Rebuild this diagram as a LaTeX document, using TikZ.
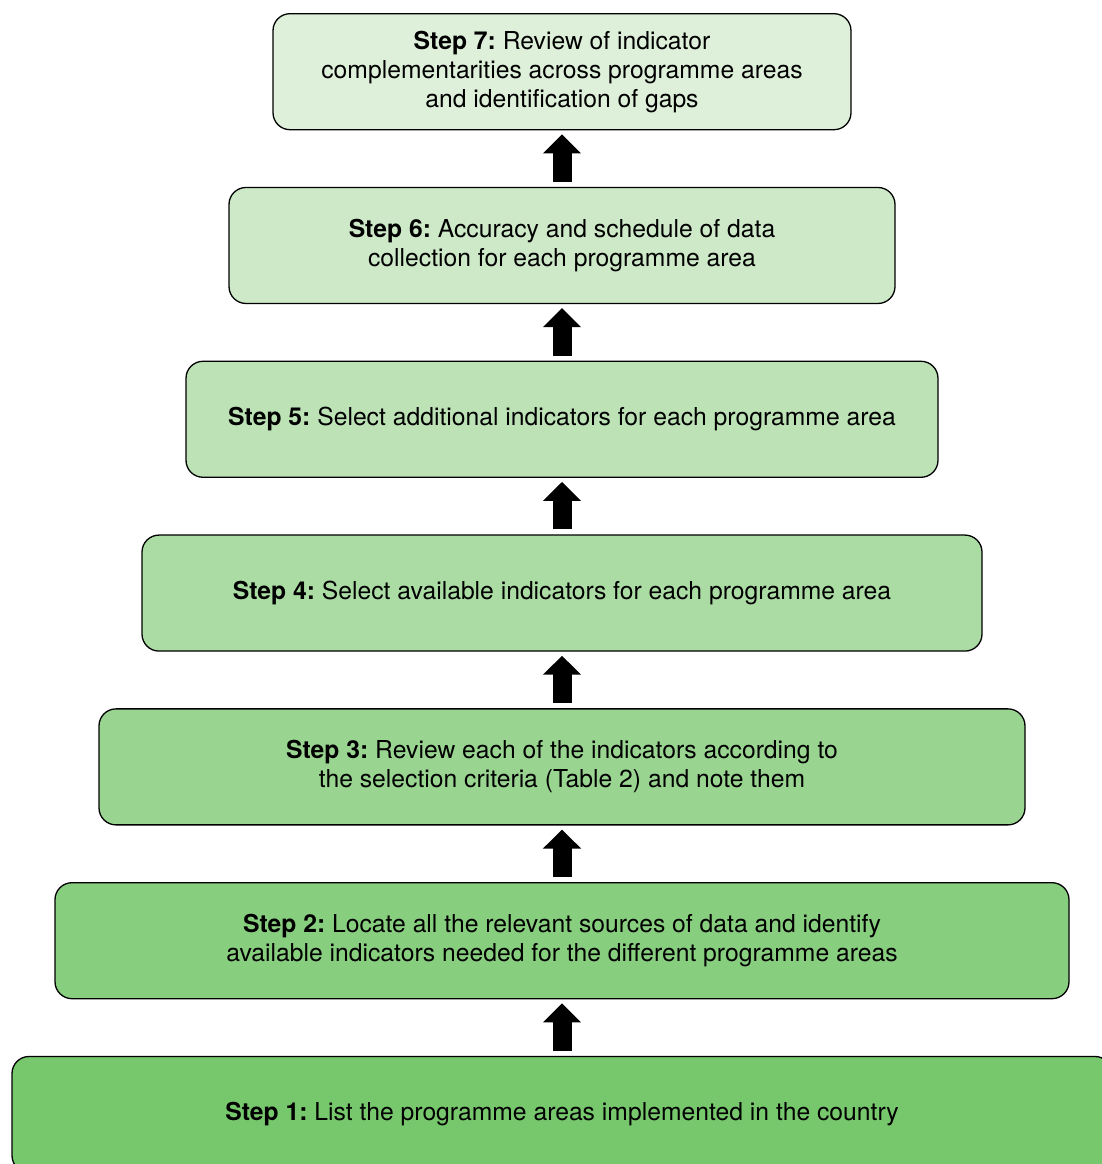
\documentclass[tikz,border=0pt]{standalone}
\usepackage{fontspec}
\setmainfont{TeX Gyre Heros}
\usepackage{xcolor}
\usetikzlibrary{arrows.meta,positioning}

\definecolor{gone}{RGB}{119,199,109}
\definecolor{gtwo}{RGB}{136,206,127}
\definecolor{gthree}{RGB}{153,213,145}
\definecolor{gfour}{RGB}{170,220,164}
\definecolor{gfive}{RGB}{188,226,182}
\definecolor{gsix}{RGB}{205,233,200}
\definecolor{gseven}{RGB}{222,240,218}

\begin{document}
\begin{tikzpicture}[x=1pt, y=1pt,
  stepbox/.style={draw, line width=1.3pt, rounded corners=17pt, align=center,
    minimum height=116pt, inner sep=4pt, font=\fontsize{24.7}{29}\selectfont\frenchspacing},
  arr/.style={line width=19pt, -{Triangle[width=37pt,length=19pt]},
    shorten <=5pt, shorten >=4pt}]
\useasboundingbox (0,0) rectangle (1101,1164);
\node[stepbox, fill=gone, minimum width=1100pt] (s1) at (562,49.5)
  {\textbf{Step 1:} List the programme areas implemented in the country};
\node[stepbox, fill=gtwo, minimum width=1014pt, above=56.5pt of s1] (s2)
  {\textbf{Step 2:} Locate all the relevant sources of data and identify\\available indicators needed for the different programme areas};
\node[stepbox, fill=gthree, minimum width=926pt, above=56.5pt of s2] (s3)
  {\textbf{Step 3:} Review each of the indicators according to\\the selection criteria (Table 2) and note them};
\node[stepbox, fill=gfour, minimum width=840pt, above=56.5pt of s3] (s4)
  {\textbf{Step 4:} Select available indicators for each programme area};
\node[stepbox, fill=gfive, minimum width=752pt, above=56.5pt of s4] (s5)
  {\textbf{Step 5:} Select additional indicators for each programme area};
\node[stepbox, fill=gsix, minimum width=666pt, above=56.5pt of s5] (s6)
  {\textbf{Step 6:} Accuracy and schedule of data\\collection for each programme area};
\node[stepbox, fill=gseven, minimum width=578pt, above=56.5pt of s6] (s7)
  {\textbf{Step 7:} Review of indicator\\complementarities across programme areas\\and identification of gaps};
\foreach \a/\b in {s1/s2, s2/s3, s3/s4, s4/s5, s5/s6, s6/s7}
  \draw[arr] (\a) -- (\b);
\end{tikzpicture}
\end{document}
